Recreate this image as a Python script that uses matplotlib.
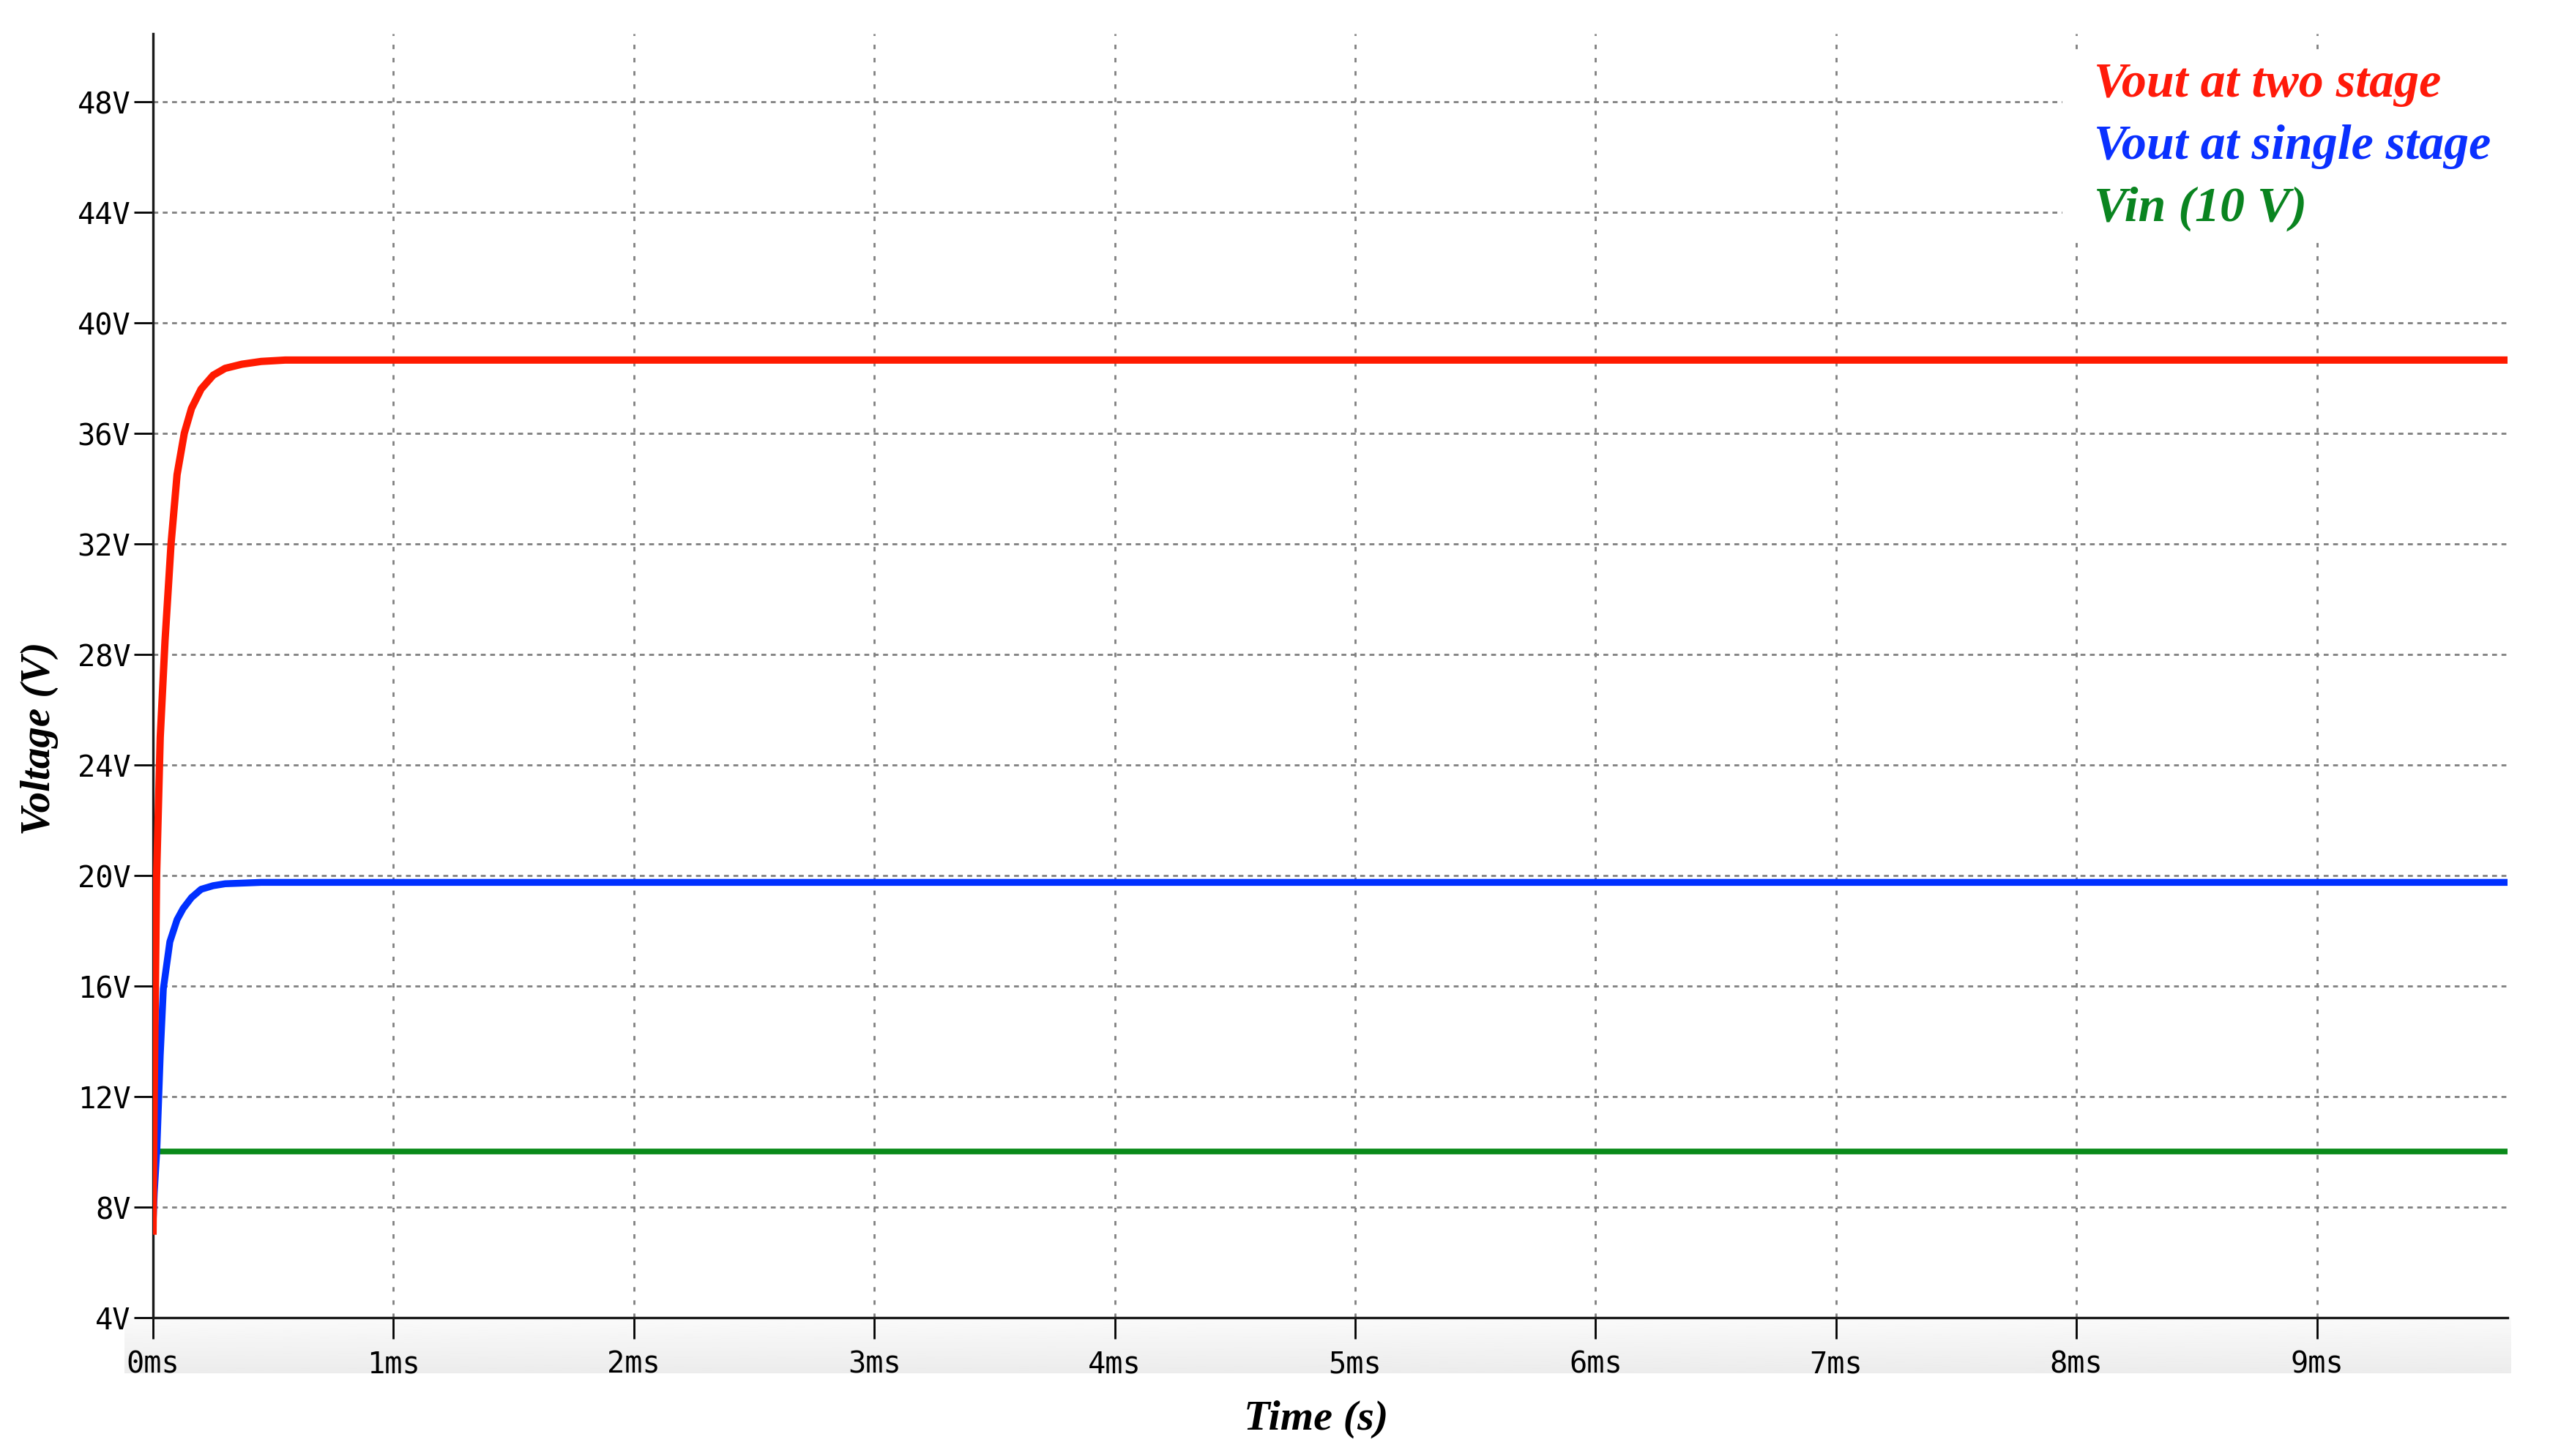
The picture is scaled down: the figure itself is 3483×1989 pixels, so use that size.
import numpy as np
import matplotlib
matplotlib.use("Agg")
import matplotlib.pyplot as plt
from matplotlib.patches import Rectangle

# Values (time in ms, voltage in V)
t_two = [0.0, 0.005, 0.015, 0.03, 0.05, 0.075, 0.1, 0.13, 0.16, 0.2, 0.25, 0.3, 0.37, 0.45, 0.55, 9.8]
v_two = [7.0, 12.0, 20.0, 25.0, 28.5, 32.0, 34.5, 36.0, 36.9, 37.6, 38.1, 38.35, 38.5, 38.6, 38.65, 38.65]

t_single = [0.0, 0.005, 0.016, 0.03, 0.043, 0.07, 0.1, 0.125, 0.16, 0.2, 0.25, 0.3, 0.45, 9.8]
v_single = [7.4, 8.5, 10.1, 13.5, 15.9, 17.6, 18.4, 18.8, 19.2, 19.5, 19.63, 19.7, 19.75, 19.75]

t_vin = [0.0, 9.8]
v_vin = [10.0, 10.0]

y_ticks = [4, 8, 12, 16, 20, 24, 28, 32, 36, 40, 44, 48]
x_ticks = [0, 1, 2, 3, 4, 5, 6, 7, 8, 9]

labels = ["Vout at two stage", "Vout at single stage", "Vin (10 V)"]
colors = ["#ff1a00", "#0030ff", "#0a8a1a"]
text_colors = ["#ff1a0a", "#0a30ff", "#0a8420"]

W, H = 3483, 1990
DPI = 200
fig = plt.figure(figsize=(W / DPI, H / DPI), dpi=DPI)

# axes placement in pixels of the reference
x0, x1 = 209, 3425
y_top, y_bot = 47, 1801
ax = fig.add_axes([x0 / W, 1 - y_bot / H, (x1 - x0) / W, (y_bot - y_top) / H])
ax.set_zorder(2)

# light gray band behind the x tick labels
band = fig.add_axes([170 / W, 1 - 1877 / H, (3430 - 170) / W, (1877 - y_bot) / H])
grad = np.linspace(0.98, 0.925, 50).reshape(-1, 1)
band.imshow(grad, aspect="auto", cmap="gray", vmin=0, vmax=1, extent=[0, 1, 0, 1])
band.axis("off")
band.set_zorder(0)

ax.plot(t_vin, v_vin, color=colors[2], lw=2.8, zorder=3, solid_capstyle="butt")
ax.plot(t_single, v_single, color=colors[1], lw=3.4, zorder=4, solid_capstyle="butt")
ax.plot(t_two, v_two, color=colors[0], lw=3.6, zorder=5, solid_capstyle="butt")

ax.set_xlim(0, 9.793)
ax.set_ylim(4, 50.46)

ax.set_xticks(x_ticks)
ax.set_xticklabels([f"{x}ms" for x in x_ticks])
ax.set_yticks(y_ticks)
ax.set_yticklabels([f"{y}V" for y in y_ticks])

mono = "DejaVu Sans Mono"
for lab in ax.get_xticklabels() + ax.get_yticklabels():
    lab.set_fontfamily(mono)
    lab.set_fontsize(14.5)

ax.tick_params(axis="y", direction="out", length=9.5, width=1.0, pad=1.5)
ax.tick_params(axis="x", direction="out", length=10.5, width=1.0, pad=5)

for side in ["top", "right"]:
    ax.spines[side].set_visible(False)
for side in ["left", "bottom"]:
    ax.spines[side].set_linewidth(1.2)
    ax.spines[side].set_color("#1a1a1a")

ax.set_axisbelow(True)
ax.yaxis.grid(True, color="#808080", lw=1.0, linestyle=(0, (2.4, 2.2)))
ax.xaxis.grid(True, color="#808080", lw=1.0, linestyle=(0, (2.2, 4.3)))

# white box behind the legend text
ax.add_patch(Rectangle((0.811, 0.8387), 0.2, 0.147, transform=ax.transAxes,
                       facecolor="white", edgecolor="none", zorder=1, clip_on=False))

serif = "Liberation Serif"
ax.set_xlabel("Time (s)", fontfamily=serif, fontstyle="italic", fontweight="bold",
              fontsize=21)
ax.xaxis.set_label_coords(0.494, -0.064)
ax.set_ylabel("Voltage (V)", fontfamily=serif, fontstyle="italic", fontweight="bold",
              fontsize=20.5)
ax.yaxis.set_label_coords(-0.040, 0.4515)

baselines = [132, 217, 302]
for lab, col, yb in zip(labels, text_colors, baselines):
    fig.text(2860 / W, 1 - yb / H, lab, color=col, fontfamily=serif,
             fontstyle="italic", fontweight="bold", fontsize=24.5, va="baseline",
             ha="left", zorder=10)

fig.savefig("out.png", dpi=DPI, facecolor="white")
